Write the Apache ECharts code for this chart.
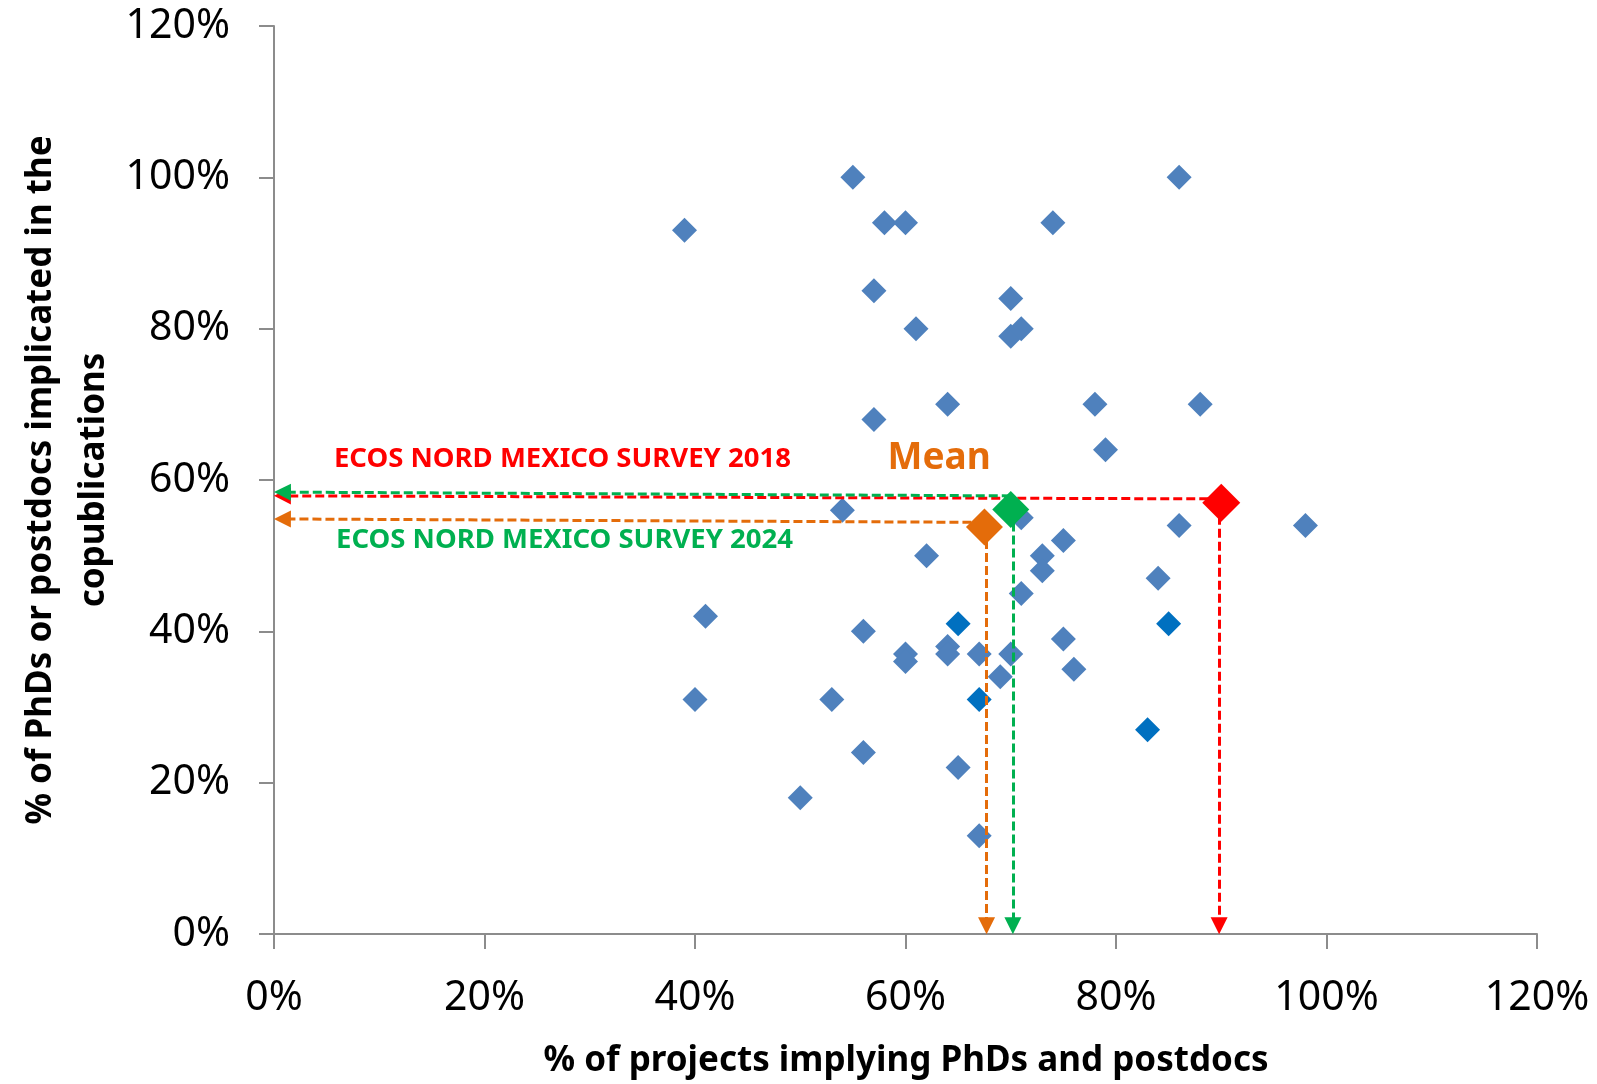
<!DOCTYPE html>
<html>
<head>
<meta charset="utf-8">
<script src="https://cdn.jsdelivr.net/npm/echarts@6/dist/echarts.min.js"></script>
<style>html,body{margin:0;padding:0;background:#fff;}#c{width:1597px;height:1084px;}</style>
</head>
<body>
<div id="c"></div>
<script>
// Project points (x: % of projects implying PhDs and postdocs, y: % of PhDs or postdocs in copublications)
const pointsX = [39,55,58,60,74,86,57,61,70,70,71,57,64,78,88,79,54,71,86,98,62,73,75,73,84,71,41,56,64,64,60,60,67,70,75,69,76,40,53,56,65,50,67];
const pointsY = [93,100,94,94,94,100,85,80,84,79,80,68,70,70,70,64,56,55,54,54,50,50,52,48,47,45,42,40,38,37,37,36,37,37,39,34,35,31,31,24,22,18,13];
// Highlighted (darker) project points
const darkX = [65,85,67,83];
const darkY = [41,41,31,27];
// Survey means
const meanNames = ['2018','Mean','2024'];
const meanX = [90.0, 67.5, 70.0];
const meanY = [57.0, 53.8, 56.1];
const meanColors = ['#FF0000','#E46C0A','#00B050'];
// Arrow guide lines (horizontal to y axis, vertical to x axis)
const hArrowStartX = [90.0, 67.5, 70.0];
const hArrowStartY = [57.5, 54.4, 57.9];
const hArrowEndX = [0.8, 0.8, 0.8];
const hArrowEndY = [57.9, 54.85, 58.4];
const vArrowX = [89.8, 67.7, 70.2];
const vArrowStartY = [57.0, 53.8, 56.1];
const vArrowEndY = [1.1, 1.1, 1.1];
// Axis ticks
const xTicks = [0,20,40,60,80,100,120];
const yTicks = [0,20,40,60,80,100,120];

const FONT = '"Noto Sans", sans-serif';
const chart = echarts.init(document.getElementById('c'), null, {renderer:'canvas'});

const mainPts = pointsX.map((x,i)=>[x, pointsY[i]]);
const darkPts = darkX.map((x,i)=>[x, darkY[i]]);

const lineSeries = [];
for (let i=0;i<3;i++){
  lineSeries.push({
    type:'lines', coordinateSystem:'cartesian2d', z:3,
    symbol:['none','triangle'], symbolSize:17,
    lineStyle:{color:meanColors[i], width:3, type:[9,4], opacity:1},
    itemStyle:{color:meanColors[i], opacity:1},
    data:[
      {coords:[[hArrowStartX[i], hArrowStartY[i]],[hArrowEndX[i], hArrowEndY[i]]]},
      {coords:[[vArrowX[i], vArrowStartY[i]],[vArrowX[i], vArrowEndY[i]]]}
    ],
    silent:true
  });
}

const option = {
  animation:false,
  backgroundColor:'#ffffff',
  grid:{left:274, right:60, top:26, bottom:150, containLabel:false},
  xAxis:{
    type:'value', min:0, max:120, interval:20,
    axisLine:{show:true, lineStyle:{color:'#8c8c8c', width:2}},
    axisTick:{show:true, length:15, lineStyle:{color:'#8c8c8c', width:2}},
    splitLine:{show:false},
    axisLabel:{formatter:'{value}%', fontFamily:FONT, fontSize:41, color:'#000', margin:44}
  },
  yAxis:{
    type:'value', min:0, max:120, interval:20,
    axisLine:{show:true, lineStyle:{color:'#8c8c8c', width:2}},
    axisTick:{show:true, length:15, lineStyle:{color:'#8c8c8c', width:2}},
    splitLine:{show:false},
    axisLabel:{formatter:'{value}%', fontFamily:FONT, fontSize:41, color:'#000', margin:44}
  },
  series:[
    {type:'scatter', z:2, symbol:'diamond', symbolSize:25, itemStyle:{color:'#4F81BD', opacity:1}, data:mainPts},
    {type:'scatter', z:2, symbol:'diamond', symbolSize:25, itemStyle:{color:'#0070C0', opacity:1}, data:darkPts},
    ...lineSeries,
    {type:'scatter', z:5, symbol:'diamond', symbolSize:38, itemStyle:{color:meanColors[0], opacity:1}, data:[[meanX[0],meanY[0]]]},
    {type:'scatter', z:5, symbol:'diamond', symbolSize:37, itemStyle:{color:meanColors[1], opacity:1}, data:[[meanX[1],meanY[1]]]},
    {type:'scatter', z:6, symbol:'diamond', symbolSize:37, itemStyle:{color:meanColors[2], opacity:1}, data:[[meanX[2],meanY[2]]]}
  ]
};
chart.setOption(option);

// Annotation positions in data coordinates
const annotations = [
  {text:'ECOS NORD MEXICO SURVEY 2018', x:27.4, y:62.8, color:'#FF0000', size:27.5},
  {text:'ECOS NORD MEXICO SURVEY 2024', x:27.6, y:52.1, color:'#00B050', size:27.5},
  {text:'Mean', x:63.2, y:62.8, color:'#E46C0A', size:37}
];
const g = annotations.map(a=>{
  const p = chart.convertToPixel({gridIndex:0},[a.x,a.y]);
  return {type:'text', x:p[0], y:p[1], z:10, style:{text:a.text, fill:a.color, font:'bold '+a.size+'px '+FONT, textAlign:'center', textVerticalAlign:'middle'}};
});
g.push({type:'text', x:906, y:1061, style:{text:'% of projects implying PhDs and postdocs', fill:'#000', font:'bold 35px '+FONT, textAlign:'center', textVerticalAlign:'middle'}});
g.push({type:'text', x:68, y:480, rotation:Math.PI/2, style:{text:'% of PhDs or postdocs implicated in the\ncopublications', fill:'#000', font:'bold 35px '+FONT, textAlign:'center', textVerticalAlign:'middle', lineHeight:53}});
chart.setOption({graphic:g});
</script>
</body>
</html>
